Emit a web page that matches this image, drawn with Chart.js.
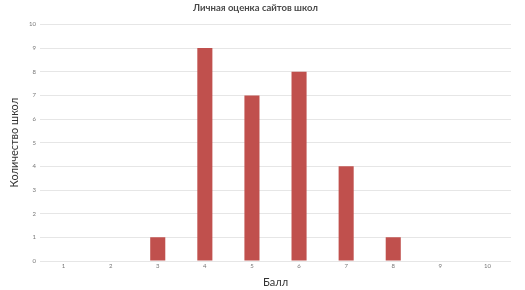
<!DOCTYPE html>
<html>
<head>
<meta charset="utf-8">
<script src="https://cdn.jsdelivr.net/npm/chart.js@4/dist/chart.umd.min.js"></script>
<style>
  html, body { margin: 0; padding: 0; background: #fff; }
  #wrap { width: 525px; height: 290px; }
</style>
</head>
<body>
<div id="wrap"><canvas id="chart"></canvas></div>
<script>
const scores = ["1", "2", "3", "4", "5", "6", "7", "8", "9", "10"];
const schoolCounts = [0, 0, 1, 9, 7, 8, 4, 1, 0, 0];
const yTicks = [0, 1, 2, 3, 4, 5, 6, 7, 8, 9, 10];

const ctx = document.getElementById("chart").getContext("2d");
new Chart(ctx, {
    type: "bar",
    data: {
        labels: scores,
        datasets: [{
            label: "Количество школ",
            data: schoolCounts,
            backgroundColor: "#c0504d",
            borderWidth: 0,
            categoryPercentage: 1,
            barPercentage: 0.32
        }]
    },
    options: {
        responsive: true,
        maintainAspectRatio: false,
        animation: false,
        layout: { padding: { top: 0, right: 14, bottom: 0, left: 0 } },
        plugins: {
            legend: { display: false },
            tooltip: { enabled: false },
            title: {
                display: true,
                text: "Личная оценка сайтов школ",
                color: "#4a4a4a",
                font: { family: "Lato", size: 9.5, weight: "bold" },
                padding: { top: 2, bottom: 11 }
            }
        },
        scales: {
            x: {
                grid: { display: false, drawTicks: false },
                border: { display: false },
                ticks: { color: "#777", font: { family: "Lato", size: 6 }, padding: 1 },
                title: {
                    display: true,
                    text: "Балл",
                    color: "#333",
                    font: { family: "Lato", size: 11 },
                    padding: { top: 4, bottom: 1 }
                },
                afterFit: function (scale) { scale.height = 29; }
            },
            y: {
                min: 0,
                max: 10,
                afterBuildTicks: function (scale) {
                    scale.ticks = yTicks.map(function (v) { return { value: v }; });
                },
                grid: { color: "#e6e6e6", drawTicks: false },
                border: { display: false },
                ticks: { color: "#777", font: { family: "Lato", size: 6 }, padding: 4 },
                title: {
                    display: true,
                    text: "Количество школ",
                    color: "#333",
                    font: { family: "Lato", size: 11 },
                    padding: { top: 8, bottom: 4 }
                },
                afterFit: function (scale) { scale.width = 40; }
            }
        }
    }
});
</script>
</body>
</html>
